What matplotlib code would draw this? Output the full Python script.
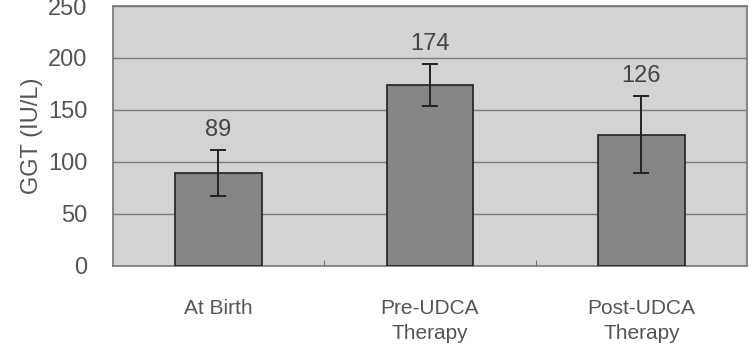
import matplotlib.pyplot as plt
import numpy as np

plt.rcParams['font.family'] = ['Liberation Sans', 'DejaVu Sans']

categories = ['At Birth', 'Pre-UDCA\nTherapy', 'Post-UDCA\nTherapy']
ggt_mean = [89, 174, 126]
ggt_err = [22, 20, 37]
yticks = [0, 50, 100, 150, 200, 250]

fig = plt.figure(figsize=(7.51, 3.54), dpi=100)
ax = fig.add_axes([0.150, 0.249, 0.845, 0.734])
ax.set_facecolor('#d3d3d3')

x = np.arange(len(categories))
ax.bar(x, ggt_mean, width=0.41, color='#858585', edgecolor='#222222', linewidth=1.2, zorder=3)
ax.errorbar(x, ggt_mean, yerr=ggt_err, fmt='none', ecolor='#222222',
            elinewidth=1.4, capsize=6, capthick=1.4, zorder=4)

# value labels above the error bars
for xi, m, e in zip(x, ggt_mean, ggt_err):
    ax.text(xi, m + e + 9, str(m), ha='center', va='bottom', fontsize=17, color='#444444')

ax.set_xlim(-0.5, len(categories) - 0.5)
ax.set_ylim(0, 250)
ax.set_yticks(yticks)
ax.grid(axis='y', color='#7a7a7a', linewidth=1, zorder=1)
ax.set_xticks(x)
ax.set_xticklabels(categories, fontsize=15, color='#555555', linespacing=1.4)
ax.set_xticks([0.5, 1.5], minor=True)
ax.tick_params(axis='x', which='major', length=0, pad=24)
ax.tick_params(axis='x', which='minor', length=4, direction='in', color='#555555')
ax.tick_params(axis='y', length=0, labelsize=17, labelcolor='#555555', pad=18)
ax.set_ylabel('GGT (IU/L)', fontsize=17, color='#555555', labelpad=4)
for s in ax.spines.values():
    s.set_color('#777777')
    s.set_linewidth(1.2)

fig.savefig('out.png', dpi=100)
